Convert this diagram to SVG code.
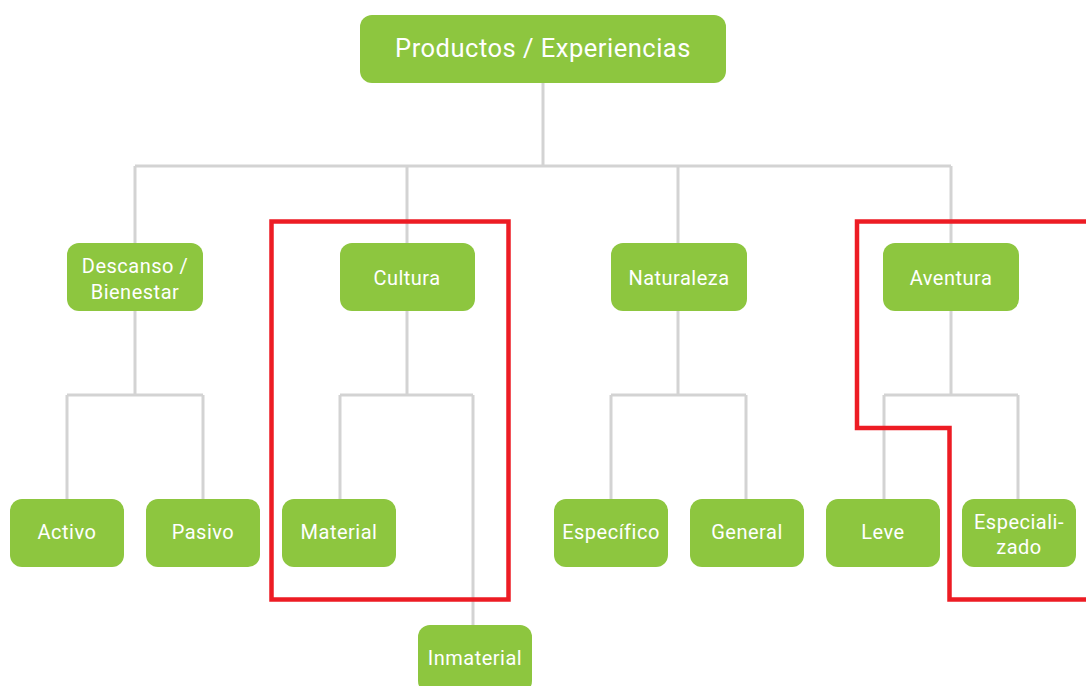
<svg xmlns="http://www.w3.org/2000/svg" width="1086" height="686" viewBox="0 0 1086 686">
<style>
.n rect{fill:#8dc63f}
.n text{fill:#fff;font-family:Roboto,"Liberation Sans",sans-serif;font-size:20px;text-anchor:middle;letter-spacing:0.5px}
.c{fill:none;stroke:#d3d3d3;stroke-width:3}
.hl{fill:none;stroke:#ed1c24;stroke-width:4.5}
</style>
<rect width="1086" height="686" fill="#fff"/>
<g id="connectors">
<path class="c" d="M543,83V166M135,166H951M135,166V243M407,166V243M678,166V243M951,166V243"/>
<path class="c" d="M135,311V395M67,395H203M67,395V499M203,395V499"/>
<path class="c" d="M407,311V395M340,395H473M340,395V499M473,395V625"/>
<path class="c" d="M678,311V395M611,395H746M611,395V499M746,395V499"/>
<path class="c" d="M951,311V395M884,395H1018M884,395V499M1018,395V499"/>
</g>
<g id="n-root" class="n"><rect x="360" y="15" width="366" height="68" rx="12"/><text x="543" y="57" style="font-size:25.5px">Productos / Experiencias</text></g>
<g id="n-descanso" class="n"><rect x="67" y="243" width="136" height="68" rx="12"/><text x="135" y="273">Descanso /</text><text x="135" y="299">Bienestar</text></g>
<g id="n-cultura" class="n"><rect x="340" y="243" width="135" height="68" rx="12"/><text x="407" y="285">Cultura</text></g>
<g id="n-naturaleza" class="n"><rect x="611" y="243" width="136" height="68" rx="12"/><text x="679" y="285">Naturaleza</text></g>
<g id="n-aventura" class="n"><rect x="883" y="243" width="136" height="68" rx="12"/><text x="951" y="285">Aventura</text></g>
<g id="n-activo" class="n"><rect x="10" y="499" width="114" height="68" rx="12"/><text x="67" y="539">Activo</text></g>
<g id="n-pasivo" class="n"><rect x="146" y="499" width="114" height="68" rx="12"/><text x="203" y="539">Pasivo</text></g>
<g id="n-material" class="n"><rect x="282" y="499" width="114" height="68" rx="12"/><text x="339" y="539">Material</text></g>
<g id="n-inmaterial" class="n"><rect x="418" y="625" width="114" height="68" rx="12"/><text x="475" y="665">Inmaterial</text></g>
<g id="n-especifico" class="n"><rect x="554" y="499" width="114" height="68" rx="12"/><text x="611" y="539">Específico</text></g>
<g id="n-general" class="n"><rect x="690" y="499" width="114" height="68" rx="12"/><text x="747" y="539">General</text></g>
<g id="n-leve" class="n"><rect x="826" y="499" width="114" height="68" rx="12"/><text x="883" y="539">Leve</text></g>
<g id="n-especializado" class="n"><rect x="962" y="499" width="114" height="68" rx="12"/><text x="1019" y="529">Especiali-</text><text x="1019" y="554">zado</text></g>
<g id="highlights">
<rect class="hl" x="271.5" y="221.5" width="237" height="378"/>
<path class="hl" d="M1090,221.5H857V428H949.5V599.5H1090"/>
</g>
</svg>
